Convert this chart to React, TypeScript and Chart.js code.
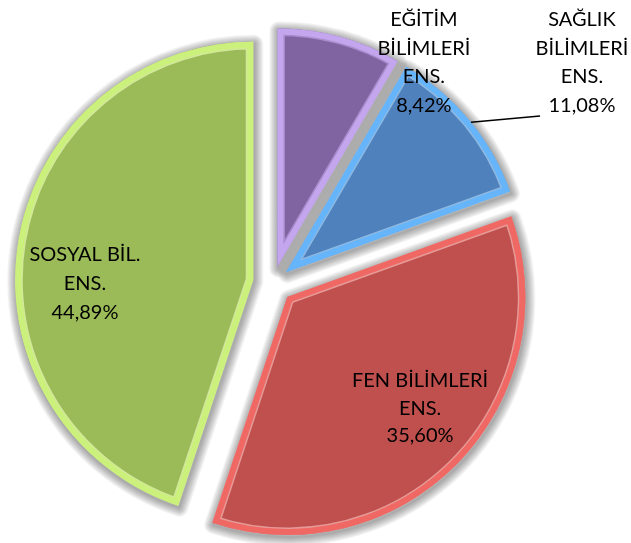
import React, { useEffect, useRef } from "react";
import { Chart, registerables } from "chart.js";

Chart.register(...registerables);

// ---- data ----
const categories = ["EĞİTİM BİLİMLERİ ENS.", "SAĞLIK BİLİMLERİ ENS.", "FEN BİLİMLERİ ENS.", "SOSYAL BİL. ENS."];
const labelLines = [
  ["EĞİTİM", "BİLİMLERİ", "ENS."],
  ["SAĞLIK", "BİLİMLERİ", "ENS."],
  ["FEN BİLİMLERİ", "ENS."],
  ["SOSYAL BİL.", "ENS."],
];
const shares = [8.42, 11.08, 35.6, 44.89];

// ---- styles ----
const RADIUS = 238;
const fillColors = ["#8064A2", "#4F81BD", "#C0504D", "#9BBB59"];
const bandColors = ["#C3A6EE", "#66B4FA", "#F06864", "#CBF07C"];
const lineColors = ["#A88CCB", "#8CB8E2", "#E59A97", "#D2E89A"];
const explodePx = [17, 17, 20, 20];
// label block centres relative to pie centre, in units of the radius
const labelAnchors = [
  [0.634, -0.927],
  [1.298, -0.927],
  [0.618, 0.527],
  [-0.79, 0.004],
];
const lineHeights = [28.5, 28.5, 27.5, 29];
const leaderEnd = [1.122, -0.702];
const leaderAngleDeg = 51; // clockwise from 12 o'clock, on the SAĞLIK slice
const FONT = "20px Lato, 'Noto Sans', sans-serif";
const BAND = 6;
const GLOW_STEPS = 9;

function fmtPct(v: number) {
  return v.toFixed(2).replace(".", ",") + "%";
}

function arcFix(arc: any) {
  return 1 - Math.sin(Math.min(Math.PI, arc.endAngle - arc.startAngle));
}

function slicePath(ctx: CanvasRenderingContext2D, arc: any, i: number) {
  const { x, y, startAngle, endAngle } = arc;
  const mid = (startAngle + endAngle) / 2;
  const cx = x + Math.cos(mid) * explodePx[i];
  const cy = y + Math.sin(mid) * explodePx[i];
  const r = arc.outerRadius + explodePx[i] * arcFix(arc);
  ctx.beginPath();
  ctx.moveTo(cx, cy);
  ctx.arc(cx, cy, r, startAngle, endAngle);
  ctx.closePath();
}

const effectsPlugin = {
  id: "effects",
  afterDatasetUpdate(chart: any) {
    // keep every exploded slice at the same radius
    const meta = chart.getDatasetMeta(0);
    meta.data.forEach((arc: any, i: number) => {
      arc.outerRadius = RADIUS - explodePx[i] * arcFix(arc);
    });
  },
  afterDatasetsDraw(chart: any) {
    const ctx: CanvasRenderingContext2D = chart.ctx;
    const meta = chart.getDatasetMeta(0);

    // bevel bands
    meta.data.forEach((arc: any, i: number) => {
      ctx.save();
      slicePath(ctx, arc, i);
      ctx.clip();
      ctx.lineJoin = "miter";
      ctx.lineWidth = 2 * (BAND + 1.5);
      ctx.strokeStyle = lineColors[i];
      ctx.stroke();
      ctx.lineWidth = 2 * BAND;
      ctx.strokeStyle = bandColors[i];
      ctx.stroke();
      ctx.restore();
    });

    // soft glow / shadow behind the slices
    ctx.save();
    ctx.globalCompositeOperation = "destination-over";
    ctx.translate(1, 2);
    ctx.lineJoin = "round";
    meta.data.forEach((arc: any, i: number) => {
      for (let k = 1; k <= GLOW_STEPS; k++) {
        slicePath(ctx, arc, i);
        ctx.lineWidth = 2 * k;
        ctx.strokeStyle = "rgba(0,0,0,0.045)";
        ctx.stroke();
      }
    });
    ctx.restore();

    // labels
    const arc0 = meta.data[0];
    const pcx = arc0.x;
    const pcy = arc0.y;
    const R = RADIUS;
    ctx.save();
    ctx.font = FONT;
    ctx.fillStyle = "#000";
    ctx.textAlign = "center";
    ctx.textBaseline = "middle";
    labelLines.forEach((lines, i) => {
      const all = [...lines, fmtPct(shares[i])];
      const bx = pcx + labelAnchors[i][0] * R;
      const by = pcy + labelAnchors[i][1] * R;
      const lh = lineHeights[i];
      const top = by - ((all.length - 1) * lh) / 2;
      all.forEach((t, k) => ctx.fillText(t, bx, top + k * lh));
    });

    // leader line for SAĞLIK
    const blue = meta.data[1];
    const bmid = (blue.startAngle + blue.endAngle) / 2;
    const bcx = blue.x + Math.cos(bmid) * explodePx[1];
    const bcy = blue.y + Math.sin(bmid) * explodePx[1];
    const a = ((leaderAngleDeg - 90) * Math.PI) / 180;
    ctx.beginPath();
    ctx.moveTo(bcx + Math.cos(a) * R, bcy + Math.sin(a) * R);
    ctx.lineTo(pcx + leaderEnd[0] * R, pcy + leaderEnd[1] * R);
    ctx.strokeStyle = "#000";
    ctx.lineWidth = 1.5;
    ctx.stroke();
    ctx.restore();
  },
};

export default function App() {
  const ref = useRef<HTMLCanvasElement | null>(null);
  useEffect(() => {
    if (!ref.current) return;
    const chart = new Chart(ref.current, {
      type: "pie",
      data: {
        labels: categories,
        datasets: [
          {
            data: shares,
            backgroundColor: fillColors,
            borderWidth: 0,
            clip: false as any,
            offset: explodePx.map((t) => t * 4),
          } as any,
        ],
      },
      options: {
        responsive: false,
        animation: false,
        events: [],
        radius: RADIUS,
        layout: { padding: { left: 0, right: 85, top: 23, bottom: 0 } },
        plugins: {
          legend: { display: false },
          tooltip: { enabled: false },
        },
      } as any,
      plugins: [effectsPlugin],
    });
    return () => chart.destroy();
  }, []);
  return (
    <div style={{ position: "absolute", left: 0, top: 0, width: 631, height: 543, background: "#fff" }}>
      <canvas ref={ref} width={631} height={543} />
    </div>
  );
}
